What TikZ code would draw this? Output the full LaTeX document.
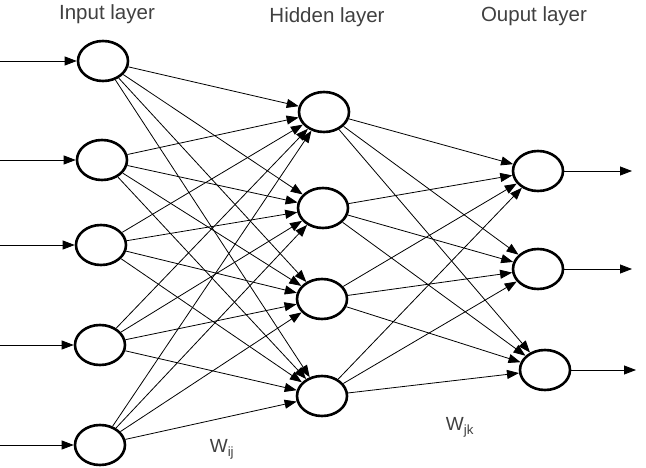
\documentclass[tikz,border=0pt]{standalone}
\usepackage{fontspec}
\setmainfont{Liberation Sans}
\usetikzlibrary{shapes.geometric,arrows.meta}
\begin{document}
\begin{tikzpicture}[x=1pt,y=-1pt,
  neuron/.style={ellipse,draw,line width=2.6pt,minimum width=50pt,minimum height=40pt,inner sep=0pt},
  conn/.style={line width=0.8pt,-{Triangle[length=12pt,width=9pt]}},
  lbl/.style={font=\fontsize{20.5}{24}\selectfont,text=black!75},
  wlbl/.style={font=\fontsize{19}{22}\selectfont,text=black!75}]
\useasboundingbox (0,0) rectangle (646,468);
% input layer
\node[neuron] (i1) at (103,61) {};
\node[neuron] (i2) at (102,160) {};
\node[neuron] (i3) at (101,245) {};
\node[neuron] (i4) at (100,345) {};
\node[neuron] (i5) at (100,445) {};
% hidden layer
\node[neuron] (h1) at (324,112) {};
\node[neuron] (h2) at (323,208) {};
\node[neuron] (h3) at (322,299) {};
\node[neuron] (h4) at (322,396) {};
% output layer
\node[neuron] (o1) at (538,171) {};
\node[neuron] (o2) at (538,269) {};
\node[neuron] (o3) at (545,370) {};
% free ends
\coordinate (a1) at (0,61);
\coordinate (a2) at (0,160);
\coordinate (a3) at (0,245);
\coordinate (a4) at (0,345);
\coordinate (a5) at (0,445);
\coordinate (b1) at (632,171);
\coordinate (b2) at (632,269);
\coordinate (b3) at (636,370);
% input arrows
\foreach \k in {1,...,5} {\draw[conn] (a\k) -- (i\k);}
% input to hidden
\foreach \i in {1,...,5} {\foreach \j in {1,...,4} {\draw[conn] (i\i) -- (h\j);}}
% hidden to output
\foreach \j in {1,...,4} {\foreach \k in {1,2,3} {\draw[conn] (h\j) -- (o\k);}}
% output arrows
\foreach \k in {1,2,3} {\draw[conn] (o\k) -- (b\k);}
% labels
\node[lbl] (li) at (107,14) {Input layer};
\node[lbl] (lh) at (327,17) {Hidden layer};
\node[lbl] (lo) at (534,16) {Ouput layer};
\node[wlbl] (wij) at (222,449) {W\textsubscript{ij}};
\node[wlbl] (wjk) at (460,427) {W\textsubscript{jk}};
\end{tikzpicture}
\end{document}
